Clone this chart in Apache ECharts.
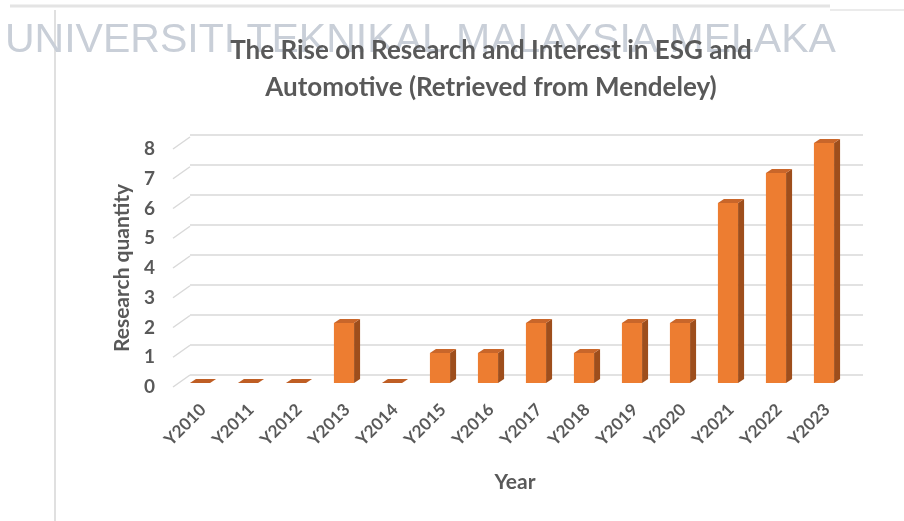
<!DOCTYPE html>
<html>
<head>
<meta charset="utf-8">
<script src="https://cdn.jsdelivr.net/npm/echarts@6/dist/echarts.min.js"></script>
<style>
  html, body { margin: 0; padding: 0; background: #ffffff; }
  #chart { width: 904px; height: 521px; }
</style>
</head>
<body>
<div id="chart"></div>
<script>
// Publication counts per year
const categories = ['Y2010', 'Y2011', 'Y2012', 'Y2013', 'Y2014', 'Y2015', 'Y2016',
                    'Y2017', 'Y2018', 'Y2019', 'Y2020', 'Y2021', 'Y2022', 'Y2023'];
const quantity = [0, 0, 0, 2, 0, 1, 1, 2, 1, 2, 2, 6, 7, 8];
const yTicks = [0, 1, 2, 3, 4, 5, 6, 7, 8];

const chartTitle = 'The Rise on Research and Interest in ESG and\nAutomotive (Retrieved from Mendeley)';
const watermark = 'UNIVERSITI TEKNIKAL MALAYSIA MELAKA';

const FONT = 'Lato, "Open Sans", sans-serif';
const TEXT = '#595959';
const GRID = '#d9d9d9';

// 3D bar styling
const DEPTH_X = 6, DEPTH_Y = -4;
const FRONT = '#ED7D31', SIDE = '#9E4E1C', TOP = '#C9662A';

const chart = echarts.init(document.getElementById('chart'), null, { renderer: 'canvas' });

function renderBar(params, api) {
  const idx = api.value(0);
  const v = api.value(1);
  const base = api.coord([idx, 0]);
  const top = api.coord([idx, v]);
  const band = api.size([1, 0])[0];
  const w = band * 0.42;
  const x0 = base[0] - w / 2 - DEPTH_X / 2;
  const x1 = x0 + w;
  const yb = base[1], yt = top[1];
  const children = [];
  if (yb - yt > 0.5) {
    children.push({ type: 'rect', shape: { x: x0, y: yt, width: w, height: yb - yt },
      style: { fill: FRONT } });
    children.push({ type: 'polygon', shape: { points: [[x1, yt], [x1 + DEPTH_X, yt + DEPTH_Y],
      [x1 + DEPTH_X, yb + DEPTH_Y], [x1, yb]] }, style: { fill: SIDE } });
  }
  children.push({ type: 'polygon', shape: { points: [[x0, yt], [x1, yt],
    [x1 + DEPTH_X, yt + DEPTH_Y], [x0 + DEPTH_X, yt + DEPTH_Y]] },
    style: { fill: yb - yt > 0.5 ? TOP : '#BF5E24' } });
  return { type: 'group', children };
}

function renderFloorEdge(params, api) {
  const p = api.coord([0, api.value(0)]);
  return { type: 'line', shape: { x1: p[0], y1: p[1], x2: p[0] + 17, y2: p[1] - 12 },
    style: { stroke: GRID, lineWidth: 1.5 } };
}

const option = {
  backgroundColor: '#ffffff',
  animation: false,
  graphic: [
    { type: 'line', z: 0, shape: { x1: 10, y1: 6, x2: 830, y2: 6 }, style: { stroke: '#e4e4e4', lineWidth: 3 } },
    { type: 'line', z: 0, shape: { x1: 830, y1: 10, x2: 904, y2: 10 }, style: { stroke: '#e4e4e4', lineWidth: 1.5 } },
    { type: 'line', z: 0, shape: { x1: 55, y1: 10, x2: 55, y2: 521 }, style: { stroke: '#d6d6d6', lineWidth: 1.5 } },
    { type: 'text', z: 0, left: 5, top: 20,
      style: { text: watermark, fill: '#c9cfd8', font: '41px "Liberation Sans", Arial, sans-serif' } }
  ],
  title: {
    text: chartTitle,
    left: 486, top: 27, textAlign: 'center',
    textStyle: { fontFamily: FONT, fontWeight: 'bold', fontSize: 26, color: TEXT, lineHeight: 37 }
  },
  grid: [
    // front edge of the floor (tick labels, axis title)
    { left: 173, right: 58, top: 149, bottom: 134 },
    // back wall (gridlines)
    { left: 190, right: 41, top: 135, bottom: 146 },
    // bars
    { left: 179, right: 53, top: 143, bottom: 138 }
  ],
  xAxis: [
    { gridIndex: 0, type: 'value', min: 0, max: 1, show: false },
    { gridIndex: 1, type: 'value', min: 0, max: 1, show: false },
    { gridIndex: 2, type: 'category', data: categories,
      axisLine: { show: false }, axisTick: { show: false },
      axisLabel: { rotate: 45, margin: 24, interval: 0, fontFamily: FONT, fontWeight: 'bold',
        fontSize: 17, color: TEXT },
      name: 'Year', nameLocation: 'middle', nameGap: 89,
      nameTextStyle: { fontFamily: FONT, fontWeight: 'bold', fontSize: 21, color: TEXT } }
  ],
  yAxis: [
    { gridIndex: 0, type: 'value', min: 0, max: 8, interval: 1,
      axisLine: { show: false }, axisTick: { show: false }, splitLine: { show: false },
      axisLabel: { margin: 18, fontFamily: FONT, fontWeight: 'bold', fontSize: 19, color: TEXT },
      name: 'Research quantity', nameLocation: 'middle', nameGap: 40, nameRotate: 90,
      nameTextStyle: { fontFamily: FONT, fontWeight: 'bold', fontSize: 21, color: TEXT } },
    { gridIndex: 1, type: 'value', min: 0, max: 8, interval: 1,
      axisLine: { show: false }, axisTick: { show: false }, axisLabel: { show: false },
      splitLine: { show: true, lineStyle: { color: GRID, width: 1.5 } } },
    { gridIndex: 2, type: 'value', min: 0, max: 8, interval: 1, show: false }
  ],
  series: [
    { type: 'custom', xAxisIndex: 0, yAxisIndex: 0, renderItem: renderFloorEdge,
      data: yTicks.map(v => [v]), encode: { y: 0 }, silent: true },
    { type: 'custom', xAxisIndex: 2, yAxisIndex: 2, renderItem: renderBar,
      data: quantity.map((v, i) => [i, v]), encode: { x: 0, y: 1 }, z: 5 }
  ]
};

chart.setOption(option);
</script>
</body>
</html>
